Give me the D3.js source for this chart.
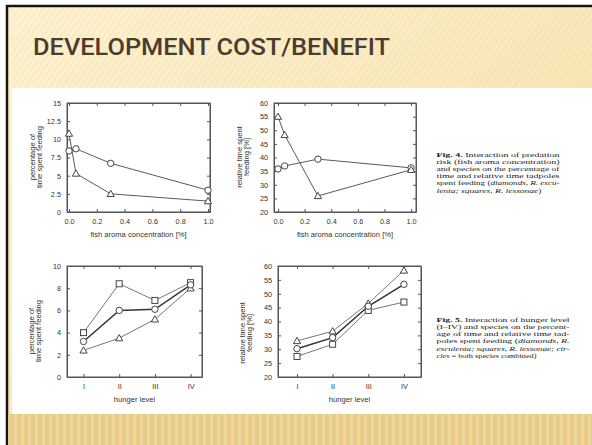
<!DOCTYPE html>
<html>
<head>
<meta charset="utf-8">
<script src="https://cdn.jsdelivr.net/npm/d3@7"></script>
<style>
  html, body { margin: 0; padding: 0; background: #fff; }
  svg { display: block; }
</style>
</head>
<body>
<div class="canvas"></div>
<script>
// ---- data ----
const aromaX = [0, 0.05, 0.3, 1.0];
const pctTriangles = [10.8, 5.3, 2.5, 1.5];
const pctCircles = [8.4, 8.7, 6.7, 3.0];
const relTriangles = [55.0, 48.3, 25.9, 35.5];
const relCircles = [35.8, 36.9, 39.4, 36.2];

const hungerLevels = ["I", "II", "III", "IV"];
const hungerPctSquares = [4.0, 8.4, 6.9, 8.5];
const hungerPctCircles = [3.2, 6.0, 6.1, 8.3];
const hungerPctTriangles = [2.4, 3.5, 5.2, 8.0];
const hungerRelTriangles = [33.0, 36.5, 46.5, 58.4];
const hungerRelCircles = [30.2, 34.2, 45.5, 53.4];
const hungerRelSquares = [27.4, 31.8, 44.0, 47.0];

const aromaTicks = [0, 0.2, 0.4, 0.6, 0.8, 1.0];
const pctTicks = [0, 2.5, 5, 7.5, 10, 12.5, 15];
const relTicks = [20, 25, 30, 35, 40, 45, 50, 55, 60];
const hungerPctTicks = [0, 2, 4, 6, 8, 10];

const fig4Lines = [
  [["Fig. 4.", "b"], [" Interaction of predation", ""]],
  [["risk (fish aroma concentration)", ""]],
  [["and species on the percentage of", ""]],
  [["time and relative time tadpoles", ""]],
  [["spent feeding (", ""], ["diamonds, R. escu-", "i"]],
  [["lenta; squares, R. lessonae", "i"], [")", ""]]
];
const fig5Lines = [
  [["Fig. 5.", "b"], [" Interaction of hunger level", ""]],
  [["(I\u2013IV) and species on the percent-", ""]],
  [["age of time and relative time tad-", ""]],
  [["poles spent feeding (", ""], ["diamonds, R.", "i"]],
  [["esculenta; squares, R. lessonae; cir-", "i"]],
  [["cles", "i"], [" = both species combined)", ""]]
];

const W = 592, H = 445;
const svg = d3.select(".canvas").append("svg")
  .attr("width", W).attr("height", H);

// ---- slide background ----
const defs = svg.append("defs");
const bg = defs.append("linearGradient").attr("id", "bg")
  .attr("x1", 0).attr("y1", 0).attr("x2", 1).attr("y2", 1);
bg.append("stop").attr("offset", "0%").attr("stop-color", "#fdf2d2");
bg.append("stop").attr("offset", "60%").attr("stop-color", "#f8e6b6");
bg.append("stop").attr("offset", "100%").attr("stop-color", "#ecd394");

const diag = defs.append("pattern").attr("id", "diag")
  .attr("width", 5).attr("height", 5)
  .attr("patternUnits", "userSpaceOnUse")
  .attr("patternTransform", "rotate(35)");
diag.append("rect").attr("width", 1.2).attr("height", 5)
  .attr("fill", "#e9d29a").attr("opacity", 0.35);

const vert = defs.append("pattern").attr("id", "vert")
  .attr("width", 7).attr("height", 40)
  .attr("patternUnits", "userSpaceOnUse");
vert.append("rect").attr("width", 3).attr("height", 40)
  .attr("fill", "#f3e0a8").attr("opacity", 0.6);

const line = defs.append("linearGradient").attr("id", "uline");
line.append("stop").attr("offset", "0%").attr("stop-color", "#f0b45a").attr("stop-opacity", 0.3);
line.append("stop").attr("offset", "15%").attr("stop-color", "#e89a2a");
line.append("stop").attr("offset", "100%").attr("stop-color", "#e8982a");

svg.append("rect").attr("width", W).attr("height", H).attr("fill", "#fff");
svg.append("rect").attr("x", 7).attr("y", 6).attr("width", W).attr("height", H)
  .attr("fill", "url(#bg)").attr("stroke", "#1a1410").attr("stroke-width", 2.5);
svg.append("rect").attr("x", 8.5).attr("y", 7.5).attr("width", W).attr("height", 80)
  .attr("fill", "url(#diag)");
svg.append("rect").attr("x", 8.5).attr("y", 414).attr("width", W).attr("height", 31)
  .attr("fill", "#e6cb88");
svg.append("rect").attr("x", 8.5).attr("y", 414).attr("width", W).attr("height", 31)
  .attr("fill", "url(#vert)");

// title
svg.append("line").attr("x1", 195).attr("x2", W).attr("y1", 62).attr("y2", 62)
  .attr("stroke", "url(#uline)").attr("stroke-width", 1.6);
svg.append("text")
  .attr("x", 33).attr("y", 55)
  .attr("font-family", "Roboto, 'Liberation Sans', sans-serif")
  .attr("font-weight", 500)
  .attr("font-size", 24)
  .attr("textLength", 357).attr("lengthAdjust", "spacingAndGlyphs")
  .attr("fill", "#4b3b30")
  .text("DEVELOPMENT COST/BENEFIT");

// white content panel
svg.append("rect").attr("x", 12).attr("y", 88).attr("width", W - 12).attr("height", 326)
  .attr("fill", "#fff");

// ---- charts ----
const inkText = "#333";
const inkLine = "#5a5a5a";
const inkMark = "#444";

function marker(g, shape, x, y) {
  if (shape === "circle") {
    g.append("circle").attr("cx", x).attr("cy", y).attr("r", 3.2)
      .attr("fill", "#fff").attr("stroke", inkMark).attr("stroke-width", 1);
  } else if (shape === "square") {
    g.append("rect").attr("x", x - 3).attr("y", y - 3).attr("width", 6).attr("height", 6)
      .attr("fill", "#fff").attr("stroke", inkMark).attr("stroke-width", 1);
  } else {
    const s = 3.6;
    g.append("path")
      .attr("d", `M${x},${y - s}L${x + s},${y + s * 0.75}L${x - s},${y + s * 0.75}Z`)
      .attr("fill", "#fff").attr("stroke", inkMark).attr("stroke-width", 1);
  }
}

function drawChart(cfg) {
  const g = svg.append("g");
  const x = d3.scaleLinear().domain(cfg.xDomain).range([cfg.left, cfg.right]);
  const y = d3.scaleLinear().domain(cfg.yDomain).range([cfg.bottom, cfg.top]);

  // frame
  g.append("rect")
    .attr("x", cfg.left).attr("y", cfg.top)
    .attr("width", cfg.right - cfg.left).attr("height", cfg.bottom - cfg.top)
    .attr("fill", "none").attr("stroke", "#555").attr("stroke-width", 1);

  const font = "'Liberation Sans', Arial, sans-serif";

  const xAxis = d3.axisBottom(x).tickValues(cfg.xTicks)
    .tickFormat(cfg.xFormat).tickSizeInner(-3).tickSizeOuter(0).tickPadding(7);
  const xTop = d3.axisTop(x).tickValues(cfg.xTicks).tickFormat("")
    .tickSizeInner(-3).tickSizeOuter(0);
  const yAxis = d3.axisLeft(y).tickValues(cfg.yTicks)
    .tickFormat(d => String(d)).tickSizeInner(-3).tickSizeOuter(0).tickPadding(6);
  const yRight = d3.axisRight(y).tickValues(cfg.yTicks).tickFormat("")
    .tickSizeInner(-3).tickSizeOuter(0);

  const axes = [
    g.append("g").attr("transform", `translate(0 ${cfg.bottom})`).call(xAxis),
    g.append("g").attr("transform", `translate(0 ${cfg.top})`).call(xTop),
    g.append("g").attr("transform", `translate(${cfg.left} 0)`).call(yAxis),
    g.append("g").attr("transform", `translate(${cfg.right} 0)`).call(yRight)
  ];
  axes.forEach(a => {
    a.select(".domain").attr("stroke", "#555");
    a.selectAll(".tick line").attr("stroke", "#555");
    a.selectAll("text").attr("font-family", font).attr("font-size", 7.3)
      .attr("fill", inkText);
  });

  // axis titles
  g.append("text")
    .attr("x", (cfg.left + cfg.right) / 2).attr("y", cfg.bottom + 25)
    .attr("text-anchor", "middle")
    .attr("font-family", font).attr("font-size", 7.6).attr("fill", inkText)
    .text(cfg.xLabel);
  cfg.yLabel.forEach((t, i) => {
    g.append("text")
      .attr("transform", `translate(${cfg.yLabelX[i]} ${cfg.yLabelY}) rotate(-90)`)
      .attr("text-anchor", "middle")
      .attr("font-family", font).attr("font-size", 7.6).attr("fill", inkText)
      .text(t);
  });

  // series
  const path = d3.line().x(d => x(d[0])).y(d => y(d[1]));
  cfg.series.forEach(s => {
    const pts = cfg.xs.map((xv, i) => [xv, s.values[i]]);
    g.append("path").attr("d", path(pts))
      .attr("fill", "none").attr("stroke", s.stroke || inkLine)
      .attr("stroke-width", s.width || 1);
  });
  cfg.series.forEach(s => {
    cfg.xs.forEach((xv, i) => marker(g, s.shape, x(xv), y(s.values[i])));
  });
}

const hungerIdx = hungerLevels.map((d, i) => i + 1);
const hungerFormat = d => hungerLevels[d - 1];

drawChart({
  left: 67, right: 210, top: 103, bottom: 212,
  xDomain: [-0.0145, 1.0145], yDomain: [0, 15],
  xTicks: aromaTicks, yTicks: pctTicks, xFormat: d3.format(".1f"),
  xs: aromaX,
  xLabel: "fish aroma concentration [%]",
  yLabel: ["percentage of", "time spent feeding"], yLabelX: [35, 42], yLabelY: 157,
  series: [
    { values: pctCircles, shape: "circle" },
    { values: pctTriangles, shape: "triangle" }
  ]
});

drawChart({
  left: 274, right: 416, top: 103, bottom: 212,
  xDomain: [-0.03, 1.037], yDomain: [20, 60],
  xTicks: aromaTicks, yTicks: relTicks, xFormat: d3.format(".1f"),
  xs: aromaX,
  xLabel: "fish aroma concentration [%]",
  yLabel: ["relative time spent", "feeding [%]"], yLabelX: [242, 249], yLabelY: 157,
  series: [
    { values: relCircles, shape: "circle" },
    { values: relTriangles, shape: "triangle" }
  ]
});

drawChart({
  left: 67, right: 202, top: 266, bottom: 377,
  xDomain: [0.537, 4.32], yDomain: [0, 10],
  xTicks: hungerIdx, yTicks: hungerPctTicks, xFormat: hungerFormat,
  xs: hungerIdx,
  xLabel: "hunger level",
  yLabel: ["percentage of", "time spent feeding"], yLabelX: [34, 41], yLabelY: 331,
  series: [
    { values: hungerPctSquares, shape: "square", stroke: "#777" },
    { values: hungerPctTriangles, shape: "triangle", stroke: "#777" },
    { values: hungerPctCircles, shape: "circle", stroke: "#333", width: 1.5 }
  ]
});

drawChart({
  left: 278, right: 421, top: 266, bottom: 377,
  xDomain: [0.467, 4.48], yDomain: [20, 60],
  xTicks: hungerIdx, yTicks: relTicks, xFormat: hungerFormat,
  xs: hungerIdx,
  xLabel: "hunger level",
  yLabel: ["relative time spent", "feeding [%]"], yLabelX: [245, 252], yLabelY: 333,
  series: [
    { values: hungerRelSquares, shape: "square", stroke: "#777" },
    { values: hungerRelTriangles, shape: "triangle", stroke: "#777" },
    { values: hungerRelCircles, shape: "circle", stroke: "#333", width: 1.5 }
  ]
});

// ---- captions (justified by stretching each line to its width) ----
function caption(lines, x0, y0, width, lastWidth, lead) {
  lines.forEach((segs, i) => {
    const t = svg.append("text")
      .attr("x", x0).attr("y", y0 + i * lead)
      .attr("font-family", "'Liberation Serif', 'Times New Roman', serif")
      .attr("font-size", 6.9).attr("fill", "#222")
      .attr("textLength", i < lines.length - 1 ? width : lastWidth)
      .attr("lengthAdjust", "spacingAndGlyphs");
    segs.forEach(([str, st]) => {
      t.append("tspan")
        .attr("font-weight", st === "b" ? "bold" : null)
        .attr("font-style", st === "i" ? "italic" : null)
        .text(str);
    });
  });
}
caption(fig4Lines, 436.5, 157, 123, 105, 7.1);
caption(fig5Lines, 436.5, 321.5, 133, 100, 7.3);
</script>
</body>
</html>
